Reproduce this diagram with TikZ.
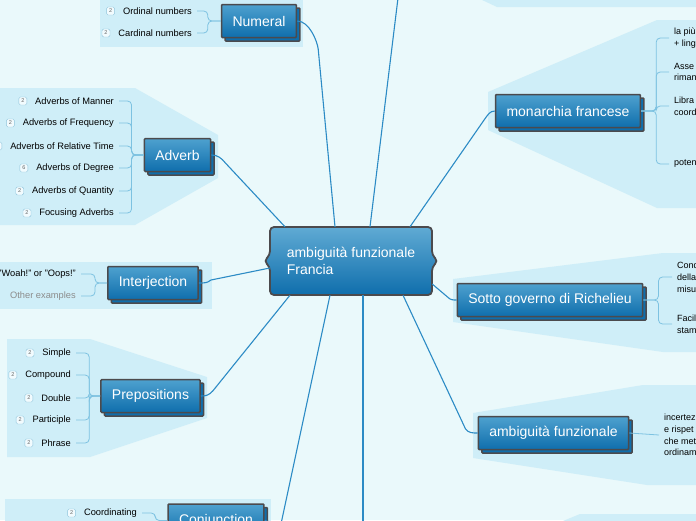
\documentclass[tikz,border=0pt]{standalone}
\usepackage{fontspec}
\setmainfont{Liberation Sans}
\usetikzlibrary{positioning,calc,shadows}
\definecolor{canvas}{HTML}{EAF9FB}
\definecolor{panel}{HTML}{CFEEF8}
\definecolor{boxedge}{HTML}{4B4A4D}
\definecolor{boxtop}{HTML}{4EA1CF}
\definecolor{boxbot}{HTML}{0F6EAC}
\definecolor{limbblue}{HTML}{2C8BC5}
\definecolor{twigblue}{HTML}{7DC2E1}
\definecolor{badgeedge}{HTML}{8EC4DC}
\definecolor{badgefill}{HTML}{F2FBFE}
\definecolor{fadetext}{HTML}{8C8C8C}

\begin{document}
\begin{tikzpicture}[x=1pt, y=-1pt,
  topic/.style={draw=boxedge, line width=1.5pt, rounded corners=1pt, top color=boxtop, bottom color=boxbot, text=white, font=\fontsize{14}{16}\selectfont, inner xsep=11pt, minimum height=33pt, general shadow={draw=boxedge, line width=1.5pt, fill=boxbot, shadow xshift=3.5pt, shadow yshift=-3.5pt}},
  hubtext/.style={text=white, font=\fontsize{14}{17}\selectfont, align=left, minimum width=162pt, minimum height=68pt, inner sep=0pt},
  leafl/.style={anchor=east, inner sep=2pt, text=black, font=\fontsize{9.3}{11}\selectfont},
  leafr/.style={anchor=west, inner sep=2pt, text=black, align=left, font=\fontsize{9}{11.8}\selectfont},
  badge/.style={draw=badgeedge, fill=badgefill, rounded corners=1.5pt, minimum size=8pt, inner sep=0pt, text=black!60, font=\fontsize{5.5}{6}\selectfont},
  limb/.style={draw=limbblue, line width=1.1pt},
  twig/.style={draw=twigblue, line width=0.8pt, rounded corners=4pt}
]
  \useasboundingbox (0,0) rectangle (696,520);
  \clip (0,0) rectangle (696,520);
  \fill[canvas] (0,0) rectangle (696,520);

  \fill[panel] (100,-1) rectangle (303,47);
  \fill[panel] (-1,88) -- (135,88) -- (218,135) -- (218,178) -- (135,225) -- (-1,225) -- cycle;
  \fill[panel] (-1,262) rectangle (212,309);
  \fill[panel] (7,339) -- (90,339) -- (207,377) -- (207,418) -- (90,457) -- (7,457) -- cycle;
  \fill[panel] (5,499) rectangle (271,521);
  \fill[panel] (480,-1) -- (497,7) -- (697,7) -- (697,-1) -- cycle;
  \fill[panel] (488,92) -- (657,20) -- (697,20) -- (697,208) -- (657,208) -- (488,130) -- cycle;
  \fill[panel] (453,279) -- (663,253) -- (697,253) -- (697,352) -- (663,352) -- (453,322) -- cycle;
  \fill[panel] (473,413) -- (643,385) -- (697,385) -- (697,485) -- (647,485) -- (473,458) -- cycle;
  \fill[panel] (563,521) -- (580,514) -- (697,514) -- (697,521) -- cycle;

  \path[draw=boxedge, line width=1.8pt, rounded corners=4pt, top color=boxtop!90!white, bottom color=boxbot]
    (270,227) -- (432,227) -- (432,255) -- (438,261) -- (432,267) -- (432,295)
    -- (270,295) -- (270,267) -- (264,261) -- (270,255) -- cycle;
  \node[hubtext] (hub) at (351,261) {ambiguità funzionale\\Francia};

  \node[topic] (numeral) at (259,21) {Numeral};
  \node[topic] (adverb) at (177.5,155) {Adverb};
  \node[topic] (interjection) at (153,283) {Interjection};
  \node[topic] (prepositions) at (150.5,396) {Prepositions};
  \node[topic] (conjunction) at (216,520.5) {Conjunction};
  \node[topic] (monarchia) at (568,111) {monarchia francese};
  \node[topic] (richelieu) at (550,300) {Sotto governo di Richelieu};
  \node[topic] (ambfun) at (553.5,433) {ambiguità funzionale};

  \node[leafl] (ordinal) at (194,11) {Ordinal numbers};
  \node[leafl] (cardinal) at (194,33) {Cardinal numbers};
  \node[badge, left=6pt of ordinal] (ordinalb) {2};
  \node[badge, left=6pt of cardinal] (cardinalb) {2};

  \node[leafl] (manner) at (116,101) {Adverbs of Manner};
  \node[leafl] (frequency) at (116,123) {Adverbs of Frequency};
  \node[leafl] (reltime) at (116,146) {Adverbs of Relative Time};
  \node[leafl] (degree) at (116,168) {Adverbs of Degree};
  \node[leafl] (quantity) at (116,191) {Adverbs of Quantity};
  \node[leafl] (focusing) at (116,213) {Focusing Adverbs};
  \node[badge, left=6pt of manner] (mannerb) {2};
  \node[badge, left=6pt of frequency] (frequencyb) {2};
  \node[badge, left=6pt of reltime] (reltimeb) {2};
  \node[badge, left=6pt of degree] (degreeb) {6};
  \node[badge, left=6pt of quantity] (quantityb) {2};
  \node[badge, left=6pt of focusing] (focusingb) {2};

  \node[leafl] (woah) at (78,274) {"Woah!" or "Oops!"};
  \node[leafl, text=fadetext] (othex) at (78,296) {Other examples};

  \node[leafl] (simple) at (73,353) {Simple};
  \node[leafl] (compound) at (73,375) {Compound};
  \node[leafl] (double) at (73,398) {Double};
  \node[leafl] (participle) at (73,420) {Participle};
  \node[leafl] (phrase) at (73,443) {Phrase};
  \node[badge, left=6pt of simple] (simpleb) {2};
  \node[badge, left=6pt of compound] (compoundb) {2};
  \node[badge, left=6pt of double] (doubleb) {2};
  \node[badge, left=6pt of participle] (participleb) {2};
  \node[badge, left=6pt of phrase] (phraseb) {2};

  \node[leafl] (coordinating) at (139,513) {Coordinating};
  \node[badge, left=6pt of coordinating] (coordinatingb) {2};

  \node[leafr] (lapiu) at (672,38) {la più\\+ ling};
  \node[leafr] (asse) at (672,72) {Asse\\riman};
  \node[leafr] (libra) at (672,106) {Libra\\coord};
  \node[leafr] (poten) at (672,164) {poten};
  \node[leafr] (cond) at (675,277) {Cond\\della\\misu};
  \node[leafr] (facil) at (675,324) {Facil\\stam};
  \node[leafr] (incertez) at (662,435) {incertez\\e rispet\\che met\\ordinam};

  \coordinate (topend) at (398,-2);
  \coordinate (bottomend) at (363,522);

  \foreach \leaf in {ordinal,cardinal}
    \draw[twig] ([xshift=3pt]\leaf.east) -| ($(numeral.west)+(-13,0)$) -- (numeral.west);
  \foreach \leaf in {manner,frequency,reltime,degree,quantity,focusing}
    \draw[twig] ([xshift=3pt]\leaf.east) -| ($(adverb.west)+(-12,0)$) -- (adverb.west);
  \foreach \leaf in {woah,othex}
    \draw[twig] ([xshift=3pt]\leaf.east) -| ($(interjection.west)+(-12,0)$) -- (interjection.west);
  \foreach \leaf in {simple,compound,double,participle,phrase}
    \draw[twig] ([xshift=3pt]\leaf.east) -| ($(prepositions.west)+(-11,0)$) -- (prepositions.west);
  \draw[twig] ([xshift=3pt]coordinating.east) -| ($(conjunction.west)+(-12,0)$) -- (conjunction.west);
  \foreach \leaf in {lapiu,asse,libra,poten}
    \draw[twig] (monarchia.east) -- ($(monarchia.east)+(15,0)$) |- ([xshift=-3pt]\leaf.west);
  \foreach \leaf in {cond,facil}
    \draw[twig] (richelieu.east) -- ($(richelieu.east)+(15,0)$) |- ([xshift=-3pt]\leaf.west);
  \draw[twig] (ambfun.east) -- ([xshift=-3pt]incertez.west);

  \draw[limb] ([xshift=-16pt]hub.north) -- ($(numeral.east)+(21,28)$) .. controls +(-1,-8) and +(12,0) .. (numeral.east);
  \draw[limb] ([xshift=19pt]hub.north) -- (topend);
  \draw[limb] ([xshift=59pt]hub.north) -- ($(monarchia.west)+(-10,8)$) .. controls +(3,-4) and +(-5,0) .. (monarchia.west);
  \draw[limb] ([yshift=-23pt]hub.east) -- ($(richelieu.west)+(-9,-3)$) .. controls +(3,3) and +(-4,0) .. (richelieu.west);
  \draw[limb] ([xshift=52pt]hub.south) -- ($(ambfun.west)+(-12,-4)$) .. controls +(3,4) and +(-5,0) .. (ambfun.west);
  \draw[limb] ([xshift=12pt]hub.south) -- (bottomend);
  \draw[limb] ([xshift=-21pt]hub.south) -- ($(conjunction.east)+(14,14)$) .. controls +(-2,-6) and +(7,0) .. (conjunction.east);
  \draw[limb] ([xshift=-61pt]hub.south) -- ($(prepositions.east)+(12,-5)$) .. controls +(-4,4) and +(6,0) .. (prepositions.east);
  \draw[limb] ([yshift=-7pt]hub.west) -- ($(interjection.east)+(12,-3)$) .. controls +(-4,3) and +(6,0) .. (interjection.east);
  \draw[limb] ([xshift=-66pt]hub.north) -- ($(adverb.east)+(14,8)$) .. controls +(-4,-5) and +(6,0) .. (adverb.east);
\end{tikzpicture}
\end{document}
